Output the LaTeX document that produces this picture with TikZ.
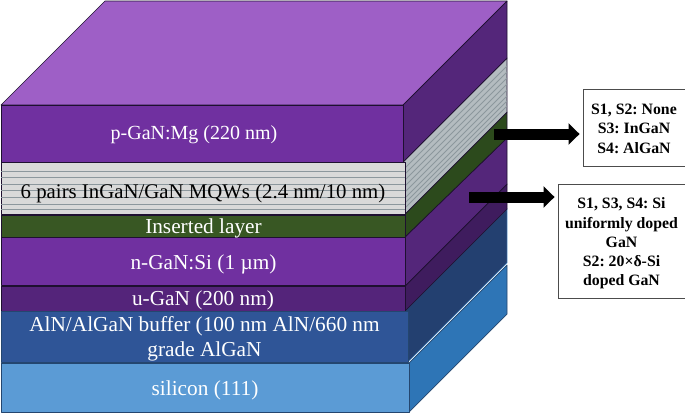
\documentclass[tikz,border=0pt]{standalone}
\usepackage{fontspec}
\setmainfont{Liberation Serif}
\usetikzlibrary{arrows.meta}
\definecolor{pTop}{HTML}{9E5FC6}
\definecolor{pFront}{HTML}{7030A0}
\definecolor{pSide}{HTML}{54267A}
\definecolor{qFront}{HTML}{D9D9D9}
\definecolor{qSide}{HTML}{B4BCC0}
\definecolor{qLine}{HTML}{8C979D}
\definecolor{iFront}{HTML}{385723}
\definecolor{iSide}{HTML}{2C4A1C}
\definecolor{uFront}{HTML}{54247A}
\definecolor{uSide}{HTML}{3F1C5E}
\definecolor{aFront}{HTML}{2F5597}
\definecolor{aSide}{HTML}{234070}
\definecolor{sFront}{HTML}{5B9BD5}
\definecolor{sSide}{HTML}{2E75B6}
\definecolor{edgeDark}{HTML}{1E1030}
\definecolor{edgeBlue}{HTML}{24466F}
\tikzset{
  face/.style={draw=edgeDark,line width=0.7pt,line join=round},
  blueface/.style={draw=edgeBlue,line width=0.7pt,line join=round},
  layertext/.style={font=\fontsize{21.3}{25}\selectfont,text=white,align=center,inner sep=0},
  notebox/.style={draw=black!70,line width=0.9pt,fill=white,align=center,inner sep=0,
    font=\fontsize{15.8}{19.3}\selectfont\bfseries\frenchspacing},
  bigarrow/.style={line width=11pt,-{Triangle[length=11pt,width=21pt]},shorten >=3pt}
}
\begin{document}
\begin{tikzpicture}[x=1pt,y=-1pt]
  \useasboundingbox (0,0) rectangle (685,413);
  % top face
  \draw[face,fill=pTop] (1,105) -- (105,1) -- (507,1) -- (403,105) -- cycle;
  % side faces
  \draw[blueface,fill=sSide] (409,363) -- (507,265) -- (507,314) -- (409,412) -- cycle;
  \draw[draw=sFront,line width=0.5pt,fill=aSide] (405,311) -- (507,209) -- (507,263) -- (408,362) -- cycle;
  \draw[face,fill=uSide] (405,286) -- (507,184) -- (507,209) -- (405,311) -- cycle;
  \draw[face,fill=pSide] (405,237) -- (507,138) -- (507,184) -- (405,286) -- cycle;
  \draw[face,fill=iSide] (405,214) -- (507,112) -- (507,138) -- (405,237) -- cycle;
  \draw[face,fill=qSide] (403,162) -- (507,58) -- (507,112) -- (405,214) -- cycle;
  \foreach \ya/\yb in {169/66,175/72,181/78,187/84,193/90,199/96,204/101,209/106}
    \draw[qLine,line width=0.9pt] (404,\ya) -- (507,\yb);
  \draw[face,fill=pSide] (403,105) -- (507,1) -- (507,58) -- (403,162) -- cycle;
  % front faces
  \draw[face,fill=pFront] (1,105) rectangle (403,162);
  \draw[face,fill=qFront] (1,162) rectangle (405,214);
  \foreach \ya in {171,177,184,190,197,204,209}
    \draw[qLine,line width=0.9pt] (1,\ya) -- (405,\ya);
  \draw[face,fill=iFront] (1,215) rectangle (405,237);
  \draw[face,fill=pFront] (1,237) rectangle (405,285);
  \draw[face,fill=uFront] (1,286) rectangle (405,311);
  \draw[blueface,fill=aFront] (1,311) rectangle (408,362);
  \draw[blueface,fill=sFront] (1,363) rectangle (409,412);
  % labels
  \node[layertext,font=\fontsize{20}{25}\selectfont] (pgan) at (194,135) {p-GaN:Mg (220 nm)};
  \node[layertext,text=black,font=\fontsize{20.8}{25}\selectfont] (mqw) at (203,193) {6 pairs InGaN/GaN MQWs (2.4 nm/10 nm)};
  \node[layertext] (ins) at (203.5,228) {Inserted layer};
  \node[layertext] (ngan) at (203.5,264) {n-GaN:Si (1 µm)};
  \node[layertext] (ugan) at (203,300) {u-GaN (200 nm)};
  \node[layertext] (buffer) at (204.5,338.5) {AlN/AlGaN buffer (100 nm AlN/660 nm\\grade AlGaN};
  \node[layertext] (si) at (205,390) {silicon (111)};
  % notes
  \node[notebox,minimum width=102pt,minimum height=77pt] (note1) at (634,127.5) {\rule{0pt}{13pt}S1, S2: None\\S3: InGaN\\S4: AlGaN};
  \node[notebox,minimum width=127pt,minimum height=114pt] (note2) at (621.5,241) {\rule{0pt}{16pt}S1, S3, S4: Si\\uniformly doped\\GaN\\S2: 20×δ-Si\\doped GaN};
  \coordinate (from1) at (494,134);
  \coordinate (from2) at (469,197);
  \draw[bigarrow] (from1) -- (note1.west |- from1);
  \draw[bigarrow] (from2) -- (note2.west |- from2);
\end{tikzpicture}
\end{document}
